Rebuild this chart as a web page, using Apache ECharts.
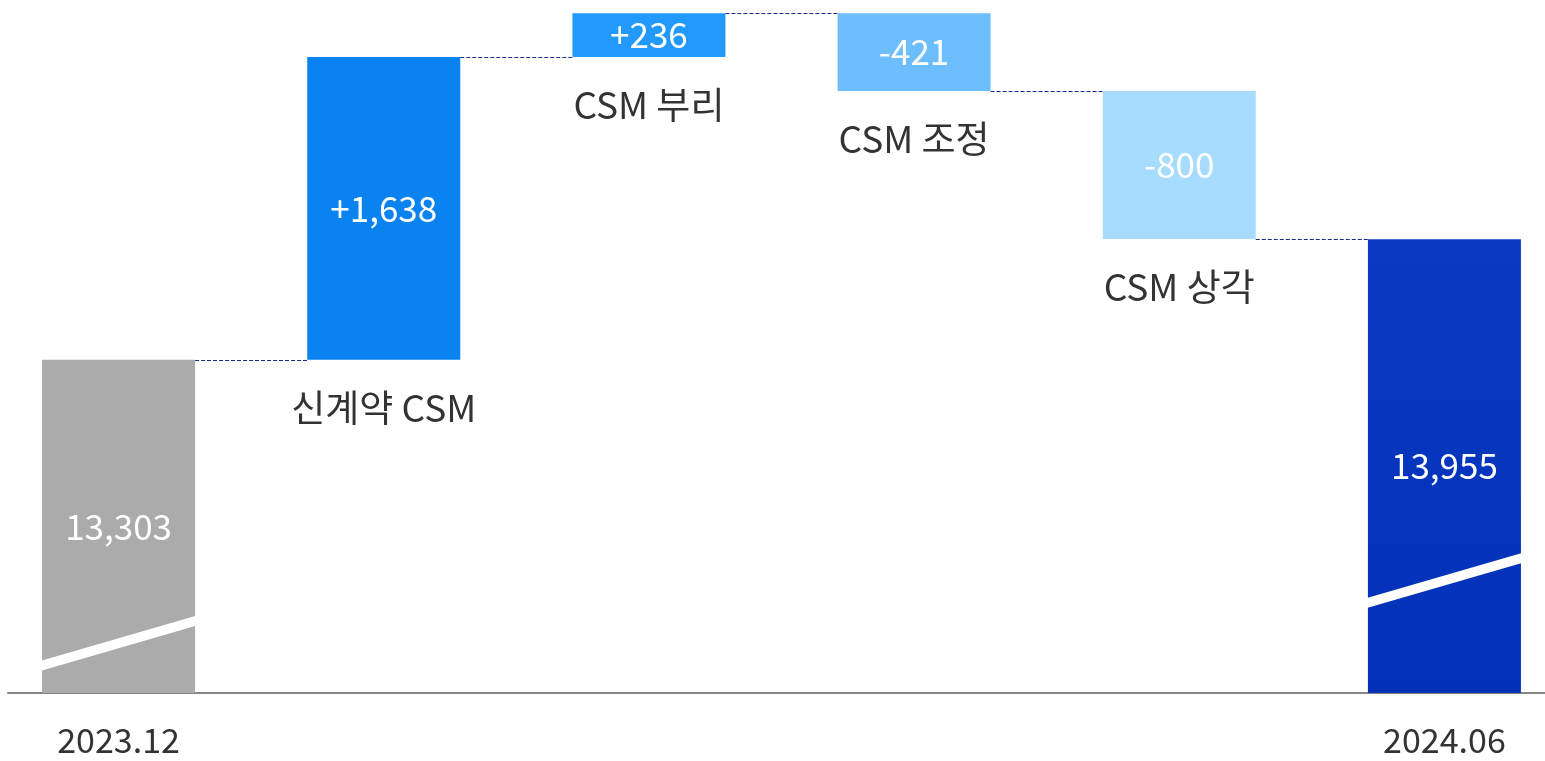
<!DOCTYPE html>
<html>
<head>
<meta charset="utf-8">
<script src="https://cdn.jsdelivr.net/npm/echarts@6/dist/echarts.min.js"></script>
<style>
  html, body { margin: 0; padding: 0; background: #fff; }
  #chart { width: 1545px; height: 761px; }
</style>
</head>
<body>
<div id="chart"></div>
<script>
// 항목
const categories = ['2023.12', '신계약 CSM', 'CSM 부리', 'CSM 조정', 'CSM 상각', '2024.06'];
// 기초 / 증감 / 기말
const startTotal = 13303;
const changes = [1638, 236, -421, -800];
const endTotal = 13955;
// 막대 안 숫자
const valueLabels = ['13,303', '+1,638', '+236', '-421', '-800', '13,955'];
// 축 생략 사선 위치 (값)
const breakLevels = [11620, null, null, null, null, 11960];

const barColors = [
  '#ababab',
  '#0a83f0',
  '#2199fd',
  '#6dbeff',
  '#a8dcff',
  new echarts.graphic.LinearGradient(0, 0, 0, 1, [
    { offset: 0, color: '#0a3ac3' },
    { offset: 1, color: '#0131b7' },
  ]),
];
const barWidth = 153;
const font = '"Noto Sans CJK KR", "Noto Sans", sans-serif';

// 워터폴 계산
const baseData = [0];
const bodyData = [startTotal];
const connectLevels = [startTotal];
let running = startTotal;
changes.forEach((d) => {
  const next = running + d;
  baseData.push(Math.min(running, next));
  bodyData.push(Math.abs(d));
  running = next;
  connectLevels.push(running);
});
baseData.push(0);
bodyData.push(endTotal);

const chart = echarts.init(document.getElementById('chart'));
chart.setOption({
  animation: false,
  grid: [
    { left: -14, right: -32, top: 9, bottom: 68, outerBoundsMode: 'none' },
    { left: 8, right: 0, top: 9, bottom: 68, outerBoundsMode: 'none' },
  ],
  xAxis: [
    {
      type: 'category',
      data: categories,
      axisLine: { show: false },
      axisTick: { show: false },
      axisLabel: {
        interval: (i) => i === 0 || i === categories.length - 1,
        margin: 30,
        fontSize: 34,
        color: '#333333',
        fontFamily: font,
      },
    },
    {
      type: 'value',
      gridIndex: 1,
      min: 0,
      max: 1,
      axisLine: { show: true, onZero: false, lineStyle: { color: '#858585', width: 2 } },
      axisTick: { show: false },
      axisLabel: { show: false },
      splitLine: { show: false },
    },
  ],
  yAxis: [
    { type: 'value', min: 11500, max: 15200, show: false },
    { type: 'value', gridIndex: 1, min: 0, max: 1, show: false },
  ],
  series: [
    {
      // 투명 받침 + 항목명
      type: 'bar',
      stack: 'wf',
      barWidth: barWidth,
      data: baseData,
      itemStyle: { color: 'transparent' },
      label: {
        show: true,
        position: 'insideTop',
        distance: 27,
        lineHeight: 42,
        fontSize: 37,
        color: '#333333',
        fontFamily: font,
        formatter: (p) =>
          p.dataIndex > 0 && p.dataIndex < categories.length - 1 ? categories[p.dataIndex] : '',
      },
    },
    {
      type: 'bar',
      stack: 'wf',
      barWidth: barWidth,
      data: bodyData.map((v, i) => ({ value: v, itemStyle: { color: barColors[i] } })),
      label: {
        show: true,
        position: 'inside',
        fontSize: 35,
        color: '#ffffff',
        fontFamily: font,
        formatter: (p) => valueLabels[p.dataIndex],
      },
    },
    {
      // 연결 점선
      type: 'custom',
      z: 1,
      data: connectLevels.map((v, i) => [i, v]),
      renderItem: (params, api) => {
        const a = api.coord([api.value(0), api.value(1)]);
        const b = api.coord([api.value(0) + 1, api.value(1)]);
        const y = Math.round(a[1]) + 0.5;
        return {
          type: 'line',
          shape: { x1: a[0] + barWidth / 2, y1: y, x2: b[0] - barWidth / 2, y2: y },
          style: { stroke: '#1a2a85', lineWidth: 1, lineDash: [4, 2] },
        };
      },
    },
    {
      // 축 생략 사선
      type: 'custom',
      z: 5,
      data: breakLevels.map((v, i) => [i, v]).filter((d) => d[1] !== null),
      renderItem: (params, api) => {
        const p = api.coord([api.value(0), api.value(1)]);
        const half = barWidth / 2 + 1;
        const rise = 45;
        const thick = 10;
        return {
          type: 'polygon',
          shape: {
            points: [
              [p[0] - half, p[1]],
              [p[0] - half, p[1] - thick],
              [p[0] + half, p[1] - thick - rise],
              [p[0] + half, p[1] - rise],
            ],
          },
          style: { fill: '#ffffff' },
        };
      },
    },
  ],
});
</script>
</body>
</html>
